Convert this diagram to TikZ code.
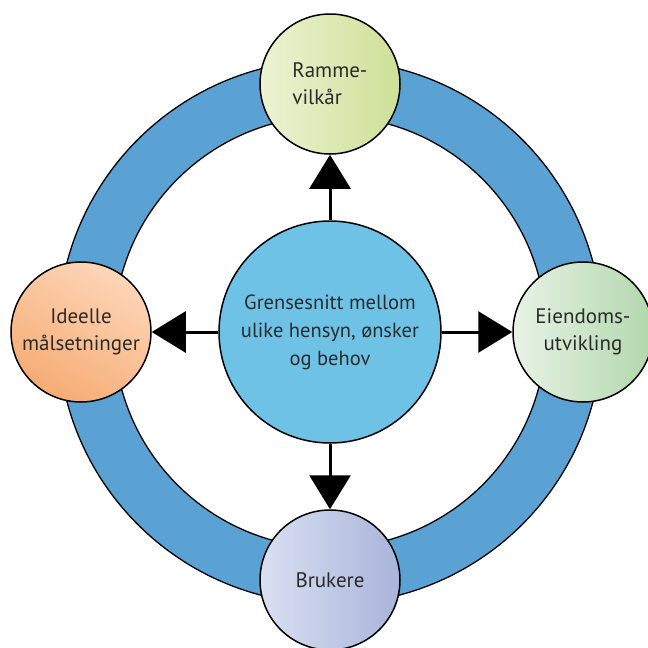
\documentclass[tikz,border=0pt]{standalone}
\usepackage{fontspec}
\setmainfont{PT Sans}
\usetikzlibrary{arrows.meta}
\definecolor{ringblue}{HTML}{5AA2D3}
\definecolor{coreblue}{HTML}{6EC2E6}
\definecolor{txt}{HTML}{2B2B2B}
\tikzset{
  x=1pt, y=-1pt,
  topic/.style={circle, draw=black, line width=1.5pt, minimum size=140pt,
    inner sep=0pt, align=center, font=\fontsize{21}{27}\selectfont, text=txt},
  core/.style={circle, draw=black, line width=1.5pt, fill=coreblue,
    minimum size=222pt, inner sep=0pt, align=center,
    font=\fontsize{20.5}{28}\selectfont, text=txt},
  link/.style={line width=3pt, -{Triangle[width=41pt,length=34pt]}}
}
\begin{document}
\begin{tikzpicture}
\useasboundingbox (0,0) rectangle (648,648);
% outer ring
\fill[ringblue, even odd rule] (330,332) circle[radius=272] (330,332) circle[radius=216];
\draw[line width=1.3pt] (330,332) circle[radius=272];
\draw[line width=1.3pt] (330,332) circle[radius=216];
% central circle
\node[core] (c) at (330,332) {Grensesnitt mellom\\ulike hensyn, ønsker\\og behov};
% surrounding topics
\node[topic, left color={rgb,255:red,236;green,243;blue,212}, right color={rgb,255:red,206;green,224;blue,150}, align=left]
  (t) at (330,84) {Ramme-\\vilkår};
\node[topic, top color={rgb,255:red,253;green,214;blue,184}, bottom color={rgb,255:red,246;green,172;blue,116}, shading angle=-30]
  (l) at (81,332) {Ideelle\\målsetninger};
\node[topic, left color={rgb,255:red,232;green,243;blue,230}, right color={rgb,255:red,178;green,215;blue,172}]
  (r) at (583,332) {Eiendoms-\\utvikling};
\node[topic, left color={rgb,255:red,218;green,224;blue,242}, right color={rgb,255:red,168;green,180;blue,218}]
  (b) at (330,580) {Brukere};
% arrows from the core to each topic
\draw[link] (c.north) -- (t.south);
\draw[link] (c.west) -- (l.east);
\draw[link] (c.east) -- (r.west);
\draw[link] (c.south) -- (b.north);
\end{tikzpicture}
\end{document}
